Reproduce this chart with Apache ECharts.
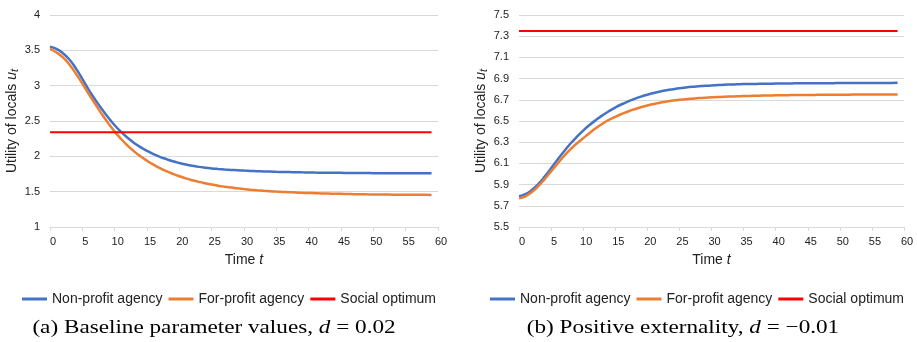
<!DOCTYPE html>
<html><head><meta charset="utf-8">
<script src="https://cdn.jsdelivr.net/npm/echarts@6/dist/echarts.min.js"></script>
<style>html,body{margin:0;padding:0;background:#fff}#c{width:917px;height:342px}</style>
</head><body><div id="c"></div>
<script>
// ---- data ----
const seriesNames = ['Non-profit agency', 'For-profit agency', 'Social optimum'];
const time = [0,1,2,3,4,5,6,7,8,9,10,11,12,13,14,15,16,17,18,19,20,21,22,23,24,25,26,27,28,29,
  30,31,32,33,34,35,36,37,38,39,40,41,42,43,44,45,46,47,48,49,50,51,52,53,54,55,56,57,58,59];

// (a) baseline, d = 0.02
const leftNonProfit = [3.55,3.52,3.46,3.37,3.245,3.095,2.94,2.80,2.67,2.55,2.44,2.345,2.262,2.19,2.13,2.078,2.032,1.993,1.96,1.93,
  1.905,1.884,1.866,1.851,1.839,1.829,1.821,1.814,1.808,1.803,1.798,1.794,1.790,1.787,1.784,1.781,1.779,1.777,1.775,1.773,
  1.772,1.770,1.769,1.768,1.767,1.766,1.765,1.764,1.764,1.763,1.762,1.762,1.761,1.761,1.760,1.760,1.760,1.759,1.759,1.759];
const leftForProfit = [3.52,3.47,3.40,3.30,3.17,3.03,2.88,2.74,2.60,2.47,2.35,2.245,2.152,2.07,2.00,1.938,1.882,1.833,1.79,1.752,
  1.718,1.688,1.662,1.639,1.619,1.601,1.585,1.571,1.558,1.547,1.537,1.528,1.520,1.513,1.507,1.501,1.496,1.492,1.488,1.484,
  1.481,1.478,1.475,1.473,1.471,1.469,1.467,1.465,1.464,1.462,1.461,1.460,1.459,1.458,1.457,1.456,1.456,1.455,1.455,1.454];
const leftSocialOptimum = 2.34;

// (b) positive externality, d = -0.01
const rightNonProfit = [5.79,5.81,5.85,5.905,5.975,6.055,6.135,6.212,6.285,6.35,6.41,6.463,6.51,6.553,6.592,6.627,6.658,6.685,6.709,6.73,
  6.748,6.764,6.778,6.79,6.80,6.809,6.816,6.822,6.827,6.832,6.836,6.839,6.842,6.844,6.846,6.848,6.849,6.850,6.851,6.852,
  6.853,6.854,6.854,6.855,6.855,6.856,6.856,6.857,6.857,6.857,6.858,6.858,6.858,6.858,6.859,6.859,6.859,6.859,6.859,6.86];
const rightForProfit = [5.77,5.79,5.83,5.885,5.952,6.025,6.098,6.168,6.232,6.288,6.337,6.387,6.433,6.474,6.51,6.54,6.566,6.59,6.611,6.63,
  6.647,6.661,6.673,6.684,6.693,6.70,6.706,6.711,6.716,6.72,6.723,6.726,6.729,6.731,6.733,6.735,6.737,6.738,6.74,6.741,
  6.742,6.743,6.744,6.745,6.745,6.746,6.746,6.747,6.747,6.748,6.748,6.748,6.749,6.749,6.749,6.75,6.75,6.75,6.75,6.75];
const rightSocialOptimum = 7.35;

const xTicks = {min: 0, max: 60, interval: 5};
const leftY = {min: 1, max: 4, interval: 0.5};
const rightY = {min: 5.5, max: 7.5, interval: 0.2};

// ---- chart ----
const FONT = '"Liberation Sans", Arial, Helvetica, sans-serif';
const SERIF = '"Liberation Serif", "Times New Roman", serif';
const TXT = '#222';
const GRIDC = '#d9d9d9';
const colors = ['#4472C4', '#ED7D31', '#FF0000'];

function pairs(vals) { return vals.map((v, i) => [time[i], v]); }
function flat(v) { return [[time[0], v], [time[time.length - 1], v]]; }

function xAxis(gi) {
  return {
    type: 'value', gridIndex: gi, min: xTicks.min, max: xTicks.max, interval: xTicks.interval,
    axisLine: {show: true, lineStyle: {color: GRIDC, width: 1}},
    axisTick: {show: true, length: 4, lineStyle: {color: GRIDC}},
    splitLine: {show: false},
    axisLabel: {fontSize: 11, color: TXT, fontFamily: FONT, margin: 9, padding: [0, 0, 0, 6]},
    name: 'Time {i|t}', nameLocation: 'middle', nameGap: 26,
    nameTextStyle: {fontSize: 14, color: TXT, fontFamily: FONT,
      rich: {i: {fontSize: 14, fontStyle: 'italic', color: TXT, fontFamily: FONT}}}
  };
}
function yAxis(gi, r) {
  return {
    type: 'value', gridIndex: gi, min: r.min, max: r.max, interval: r.interval,
    axisLine: {show: false}, axisTick: {show: false},
    splitLine: {show: true, lineStyle: {color: GRIDC, width: 1}},
    axisLabel: {fontSize: 11, color: TXT, fontFamily: FONT, margin: 10},
    name: 'Utility of locals {i|u}{s|t}', nameLocation: 'middle', nameGap: 30,
    nameTextStyle: {fontSize: 14, color: TXT, fontFamily: FONT,
      rich: {i: {fontSize: 14, fontStyle: 'italic', color: TXT, fontFamily: FONT},
             s: {fontSize: 11, fontStyle: 'italic', color: TXT, fontFamily: FONT, padding: [4, 0, 0, 0]}}}
  };
}
function line(name, gi, data, ci, w) {
  return {
    type: 'line', name, xAxisIndex: gi, yAxisIndex: gi, data, smooth: true,
    symbol: 'none', lineStyle: {color: colors[ci], width: w}, itemStyle: {color: colors[ci]},
    animation: false
  };
}
function legend(left) {
  return {
    left, top: 287, width: 440, orient: 'horizontal', icon: 'rect',
    itemWidth: 25, itemHeight: 3, itemGap: 6, data: seriesNames,
    textStyle: {fontSize: 14, color: TXT, fontFamily: FONT}, selectedMode: false
  };
}

const chart = echarts.init(document.getElementById('c'));
chart.setOption({
  animation: false,
  backgroundColor: '#fff',
  grid: [
    {left: 50, top: 15, width: 388, height: 212},
    {left: 519, top: 15, width: 385, height: 212}
  ],
  xAxis: [xAxis(0), xAxis(1)],
  yAxis: [yAxis(0, leftY), yAxis(1, rightY)],
  legend: [legend(17), legend(485)],
  series: [
    line(seriesNames[0], 0, pairs(leftNonProfit), 0, 2.5),
    line(seriesNames[1], 0, pairs(leftForProfit), 1, 2.5),
    line(seriesNames[2], 0, flat(leftSocialOptimum), 2, 2),
    line(seriesNames[0], 1, pairs(rightNonProfit), 0, 2.5),
    line(seriesNames[1], 1, pairs(rightForProfit), 1, 2.5),
    line(seriesNames[2], 1, flat(rightSocialOptimum), 2, 2)
  ],
  graphic: [
    {type: 'text', x: 214, y: 328, scaleX: 1.22, style: {
      text: '{n|(a) Baseline parameter values, }{i|d}{n| = 0.02}', align: 'center', verticalAlign: 'middle',
      rich: {n: {fontSize: 19, fontFamily: SERIF, fill: '#000'}, i: {fontSize: 19, fontFamily: SERIF, fontStyle: 'italic', fill: '#000'}}}},
    {type: 'text', x: 683, y: 328, scaleX: 1.22, style: {
      text: '{n|(b) Positive externality, }{i|d}{n| = \u22120.01}', align: 'center', verticalAlign: 'middle',
      rich: {n: {fontSize: 19, fontFamily: SERIF, fill: '#000'}, i: {fontSize: 19, fontFamily: SERIF, fontStyle: 'italic', fill: '#000'}}}}
  ]
});
</script></body></html>
